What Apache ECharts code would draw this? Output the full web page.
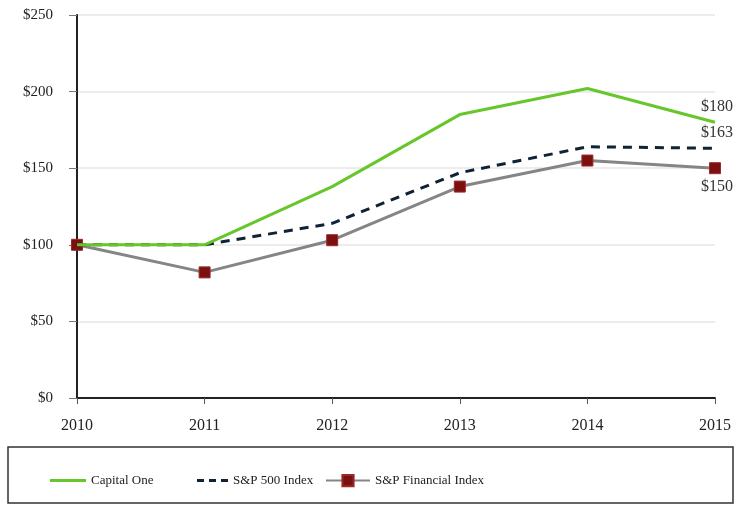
<!DOCTYPE html>
<html>
<head>
<meta charset="utf-8">
<script src="https://cdn.jsdelivr.net/npm/echarts@6/dist/echarts.min.js"></script>
<style>html,body{margin:0;padding:0;background:#fff}#c{width:736px;height:505px}</style>
</head>
<body>
<div id="c"></div>
<script>
const years = ['2010', '2011', '2012', '2013', '2014', '2015'];
const capitalOne = [100, 100, 138, 185, 202, 180];
const sp500 = [100, 100, 114, 147, 164, 163];
const spFinancial = [100, 82, 103, 138, 155, 150];
const yTicks = [0, 50, 100, 150, 200, 250];

const font = 'Liberation Serif';
const chart = echarts.init(document.getElementById('c'));
function endLbl(offset) {
  return {
    show: true, offset: offset, distance: 0, align: 'center', verticalAlign: 'middle',
    fontFamily: font, fontSize: 16, color: '#333',
    formatter: p => '$' + p.value
  };
}
const legendText = { fontFamily: font, fontSize: 13, color: '#222' };
chart.setOption({
  animation: false,
  grid: { left: 77, right: 21, top: 15, bottom: 107 },
  xAxis: {
    type: 'category', data: years, boundaryGap: false,
    axisLine: { lineStyle: { color: '#222', width: 2 } },
    axisTick: { show: true, length: 6, lineStyle: { color: '#555' } },
    axisLabel: { fontFamily: font, fontSize: 16, color: '#222', margin: 20 },
    splitLine: { show: false }
  },
  yAxis: {
    type: 'value', min: yTicks[0], max: yTicks[yTicks.length - 1], interval: 50,
    axisLine: { show: true, lineStyle: { color: '#222', width: 2 } },
    axisTick: { show: true, length: 8, lineStyle: { color: '#777' } },
    axisLabel: { fontFamily: font, fontSize: 15, color: '#222', margin: 24, formatter: v => '$' + v },
    splitLine: { lineStyle: { color: '#e6e6e6', width: 1.5 } }
  },
  legend: [
    { data: [{ name: 'Capital One', icon: 'rect' }], left: 45, top: 469, itemWidth: 36, itemHeight: 3, itemGap: 8,
      textStyle: legendText },
    { data: [{ name: 'S&P 500 Index', icon: 'path://M0,0h7v3h-7z M12,0h7v3h-7z M24,0h7v3h-7z' }],
      left: 192, top: 469, itemWidth: 31, itemHeight: 3, itemGap: 9, textStyle: legendText },
    { data: ['S&P Financial Index'], left: 320, top: 469, itemWidth: 44, itemHeight: 14,
      textStyle: legendText }
  ],
  graphic: [{
    type: 'rect', shape: { x: 8, y: 447, width: 725, height: 56 },
    style: { fill: 'none', stroke: '#333', lineWidth: 1.5 }, silent: true
  }],
  series: [
    { name: 'S&P Financial Index', type: 'line', data: spFinancial, symbol: 'rect', symbolSize: 11,
      itemStyle: { color: '#7a1010', borderColor: '#9a2a2a', borderWidth: 1 },
      lineStyle: { color: '#858585', width: 3 },
      label: { show: true, position: 'bottom', offset: [2, 0], fontFamily: font, fontSize: 16, color: '#333',
        formatter: p => p.dataIndex === years.length - 1 ? '$' + p.value : '' }, z: 2 },
    { name: 'S&P 500 Index', type: 'line', data: sp500, symbol: 'none',
      itemStyle: { color: '#0f2236' },
      lineStyle: { color: '#0f2236', width: 3, type: [9, 7] }, endLabel: endLbl([2, -15]), z: 3 },
    { name: 'Capital One', type: 'line', data: capitalOne, symbol: 'none',
      itemStyle: { color: '#66c62a' },
      lineStyle: { color: '#66c62a', width: 3 }, endLabel: endLbl([2, -15]), z: 4 }
  ]
});
</script>
</body>
</html>
